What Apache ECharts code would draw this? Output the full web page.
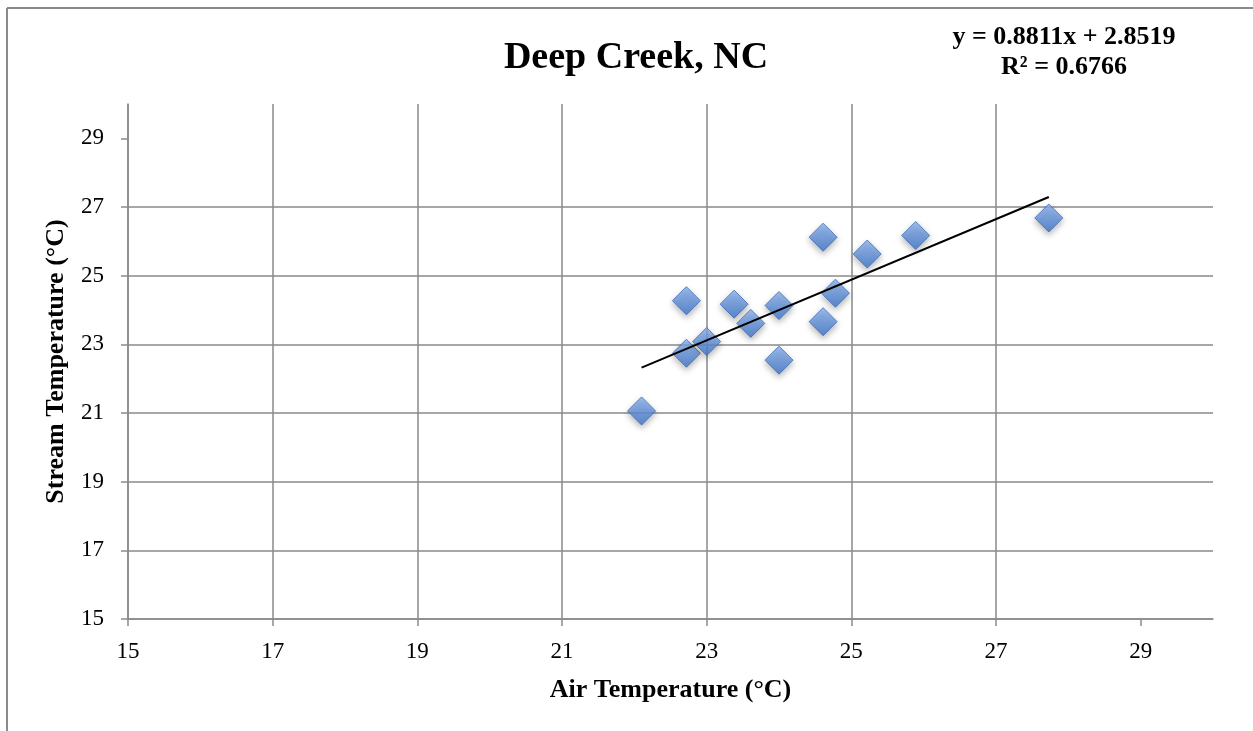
<!DOCTYPE html>
<html><head><meta charset="utf-8">
<script src="https://cdn.jsdelivr.net/npm/echarts@6/dist/echarts.min.js"></script>
<style>html,body{margin:0;padding:0;background:#fff}#c{width:1253px;height:731px}</style>
</head><body><div id="c"></div>
<script>
const chartTitle = 'Deep Creek, NC';
const equationLines = ['y = 0.8811x + 2.8519', 'R² = 0.6766'];
const xName = 'Air Temperature (°C)';
const yName = 'Stream Temperature (°C)';
const airTemp = [22.10, 22.72, 22.72, 23.00, 23.38, 23.61, 24.00, 24.00, 24.61, 24.61, 24.78, 25.22, 25.89, 27.73];
const streamTemp = [21.06, 22.74, 24.27, 23.08, 24.17, 23.61, 24.13, 22.54, 23.66, 26.12, 24.49, 25.63, 26.17, 26.68];
const trendX = [22.10, 27.73];
const trendY = [22.32, 27.29];
const xTicks = [15, 17, 19, 21, 23, 25, 27, 29];
const yTicks = [15, 17, 19, 21, 23, 25, 27, 29];

const FONT = '"Liberation Serif", "Times New Roman", serif';
const GRID = '#8a8a8a';
const points = airTemp.map((x, i) => [x, streamTemp[i]]);
const trend = trendX.map((x, i) => [x, trendY[i]]);

function axis(name, ticks, isY) {
  return {
    type: 'value', min: 15, max: 30, interval: 2,
    name: name, nameLocation: 'middle', nameGap: isY ? 58 : 57,
    nameTextStyle: { fontFamily: FONT, fontWeight: 'bold', fontSize: 26, color: '#000', lineHeight: 28 },
    axisLine: { show: true, lineStyle: { color: GRID, width: 1.5 } },
    axisTick: { show: true, inside: false, length: 7, customValues: ticks, lineStyle: { color: GRID, width: 1.5 } },
    axisLabel: { customValues: ticks, margin: isY ? 24 : 21, fontFamily: FONT, fontSize: 23, color: '#000', lineHeight: 23 },
    splitLine: { show: true, showMaxLine: false, lineStyle: { color: GRID, width: 1.5 } }
  };
}

const chart = echarts.init(document.getElementById('c'), null, { renderer: 'canvas' });
chart.setOption({
  backgroundColor: '#fff',
  animation: false,
  title: [
    { text: chartTitle, left: 631, top: 32, textAlign: 'center',
      textStyle: { fontFamily: FONT, fontWeight: 'bold', fontSize: 38, color: '#000', lineHeight: 42 } },
    { text: equationLines.join('\n'), left: 1059, top: 17, textAlign: 'center',
      textStyle: { fontFamily: FONT, fontWeight: 'bold', fontSize: 26, color: '#000', lineHeight: 30, align: 'center' } }
  ],
  grid: { left: 128, top: 104, right: 40, bottom: 112, containLabel: false },
  xAxis: axis(xName, xTicks, false),
  yAxis: axis(yName, yTicks, true),
  graphic: [
    { type: 'line', shape: { x1: 7, y1: 8, x2: 1253, y2: 8 }, style: { stroke: '#8a8a8a', lineWidth: 2 }, silent: true },
    { type: 'line', shape: { x1: 7, y1: 8, x2: 7, y2: 731 }, style: { stroke: '#8a8a8a', lineWidth: 2 }, silent: true }
  ],
  series: [
    {
      type: 'scatter', data: points, symbol: 'diamond', symbolSize: 28, z: 2,
      itemStyle: {
        color: { type: 'linear', x: 0, y: 0, x2: 0, y2: 1,
          colorStops: [{ offset: 0, color: '#8ab3f0' }, { offset: 1, color: '#3f76cc' }] },
        borderColor: '#3a6ab8', borderWidth: 1,
        shadowBlur: 6, shadowColor: 'rgba(0,0,0,0.35)', shadowOffsetY: 3
      }
    },
    {
      type: 'line', data: trend, symbol: 'none', z: 3,
      lineStyle: { color: '#000', width: 2 }
    }
  ]
});
</script></body></html>
